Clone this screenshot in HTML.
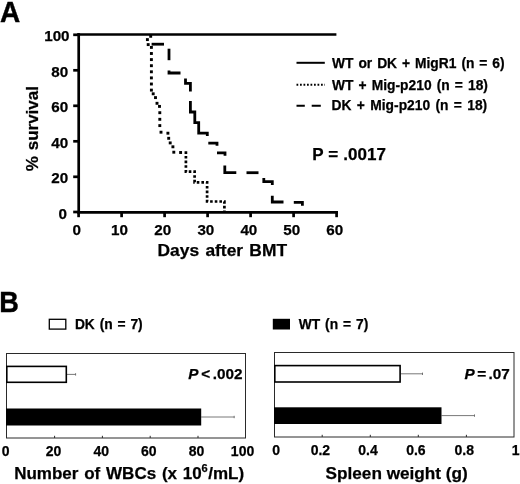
<!DOCTYPE html><html><head><meta charset="utf-8"><title>Figure</title>
<style>html,body{margin:0;padding:0;background:#fff}svg{display:block}text{font-family:"Liberation Sans",sans-serif;font-weight:bold;fill:#000;white-space:pre;stroke:#000;stroke-width:0.25px}</style></head><body>
<svg width="520" height="484" viewBox="0 0 520 484">
<rect width="520" height="484" fill="#fff"/>
<text transform="translate(0.10,21.6) scale(0.95,1)" font-size="29.5" style="stroke-width:0.4px">A</text>
<text transform="translate(-0.86,312.1) scale(0.92,1)" font-size="29.5" style="stroke-width:0.4px">B</text>
<g stroke="#000" stroke-width="2.7" fill="none">
<path d="M78.7 33.2V213.4"/>
<path d="M77.3 212.3H338"/>
<path d="M77.3 34.5H336.4"/>
<path d="M73.2 212.0H79"/>
<path d="M73.2 176.8H79"/>
<path d="M73.2 141.3H79"/>
<path d="M73.2 105.8H79"/>
<path d="M73.2 70.3H79"/>
<path d="M73.2 34.8H79"/>
<path d="M78.6 212V217.2"/>
<path d="M121.6 212V217.2"/>
<path d="M164.6 212V217.2"/>
<path d="M207.6 212V217.2"/>
<path d="M250.6 212V217.2"/>
<path d="M293.6 212V217.2"/>
<path d="M336.6 212V217.2"/>
</g>
<text x="58.50" y="218.8" font-size="15.2">0</text>
<text x="51.36" y="183.3" font-size="15.2">20</text>
<text x="51.36" y="147.8" font-size="15.2">40</text>
<text x="51.36" y="112.3" font-size="15.2">60</text>
<text x="51.36" y="76.8" font-size="15.2">80</text>
<text x="44.22" y="41.3" font-size="15.2">100</text>
<text x="72.48" y="234.9" font-size="15.2">0</text>
<text x="111.07" y="234.9" font-size="15.2">10</text>
<text x="154.30" y="234.9" font-size="15.2">20</text>
<text x="197.38" y="234.9" font-size="15.2">30</text>
<text x="240.42" y="234.9" font-size="15.2">40</text>
<text x="283.30" y="234.9" font-size="15.2">50</text>
<text x="326.26" y="234.9" font-size="15.2">60</text>
<text transform="translate(38.2,171.24) rotate(-90)" font-size="17" style="word-spacing:1.08px">% survival</text>
<text x="157.57" y="255.8" font-size="17.4" style="word-spacing:1.42px">Days after BMT</text>
<g fill="#000">
<rect x="149.25" y="34.85" width="2.9" height="2.9"/>
<rect x="145.95" y="38.15" width="2.9" height="2.9"/>
<rect x="146.75" y="43.15" width="2.9" height="2.9"/>
<rect x="149.95" y="45.95" width="2.9" height="2.9"/>
<rect x="149.95" y="52.05" width="2.9" height="2.9"/>
<rect x="149.95" y="58.15" width="2.9" height="2.9"/>
<rect x="149.95" y="64.25" width="2.9" height="2.9"/>
<rect x="149.95" y="70.35" width="2.9" height="2.9"/>
<rect x="149.95" y="76.45" width="2.9" height="2.9"/>
<rect x="149.95" y="82.55" width="2.9" height="2.9"/>
<rect x="149.95" y="88.65" width="2.9" height="2.9"/>
<rect x="151.75" y="92.35" width="2.9" height="2.9"/>
<rect x="154.05" y="96.15" width="2.9" height="2.9"/>
<rect x="155.55" y="101.85" width="2.9" height="2.9"/>
<rect x="158.05" y="104.95" width="2.9" height="2.9"/>
<rect x="158.35" y="111.25" width="2.9" height="2.9"/>
<rect x="158.35" y="117.85" width="2.9" height="2.9"/>
<rect x="158.35" y="124.15" width="2.9" height="2.9"/>
<rect x="159.55" y="130.75" width="2.9" height="2.9"/>
<rect x="166.45" y="131.75" width="2.9" height="2.9"/>
<rect x="167.25" y="136.85" width="2.9" height="2.9"/>
<rect x="168.75" y="141.45" width="2.9" height="2.9"/>
<rect x="171.45" y="145.35" width="2.9" height="2.9"/>
<rect x="172.35" y="150.75" width="2.9" height="2.9"/>
<rect x="179.15" y="151.05" width="2.9" height="2.9"/>
</g>
<path fill="none" stroke="#000" stroke-width="2.7" stroke-dasharray="2.6 2.05" d="M185.9 151.3 V171.7 H194.6 V182.3 H207.1 V201.5 H224.4 V211"/>
<g fill="none" stroke="#000" stroke-width="2.8">
<path d="M151.6 44.2H164"/>
<path d="M169 48.7V60.2"/>
<path d="M169 70.6V73H180.5"/>
<path d="M185.5 78.4V83.4H190.4V91.6"/>
<path d="M190.4 101V112H194.8V122.6H198.7V133.2H207.3V136"/>
<path d="M208.3 143.2H217V145.7"/>
<path d="M217 152.9H225V155.8"/>
<path d="M224.8 165.5V172.7H236.3"/>
<path d="M246.5 172.7H258.5"/>
<path d="M263.8 177.9V181.7H272.3V185"/>
<path d="M272.3 195.8V202H283.5"/>
<path d="M293.8 202.4H302.4V205.8"/>
</g>
<g stroke="#000" stroke-width="2" fill="none">
<path d="M296.5 62.8H324.8"/>
<path d="M296.5 84.8H325" stroke-dasharray="1.75 1.75"/>
<path d="M296.5 105.8H304.8M311.7 105.8H320.8"/>
</g>
<text x="332.00" y="67.8" font-size="13.8" style="word-spacing:1.12px">WT or DK + MigR1 (n = 6)</text>
<text x="332.00" y="89.6" font-size="13.8" style="word-spacing:1.29px">WT + Mig-p210 (n = 18)</text>
<text x="331.60" y="110.2" font-size="13.8" style="word-spacing:1.52px">DK + Mig-p210 (n = 18)</text>
<text x="312.29" y="160.4" font-size="17" style="word-spacing:0.33px">P = .0017</text>
<rect x="49.3" y="319.3" width="16.5" height="9.8" fill="#fff" stroke="#000" stroke-width="1.3"/>
<text x="74.90" y="328.5" font-size="13.8" style="word-spacing:1.00px">DK (n = 7)</text>
<rect x="272.8" y="318.8" width="17.2" height="10.7" fill="#000"/>
<text x="298.70" y="328.6" font-size="13.8" style="word-spacing:1.09px">WT (n = 7)</text>
<rect x="6.5" y="353.5" width="239.0" height="84.5" fill="#fff" stroke="#2a2a2a" stroke-width="1"/>
<path d="M54.6 438V435.8" stroke="#2a2a2a" stroke-width="1"/>
<path d="M102.4 438V435.8" stroke="#2a2a2a" stroke-width="1"/>
<path d="M150.2 438V435.8" stroke="#2a2a2a" stroke-width="1"/>
<path d="M198.0 438V435.8" stroke="#2a2a2a" stroke-width="1"/>
<path d="M67 374.4H75.6M75.6 373.2V375.6" stroke="#555" stroke-width="0.8" fill="none"/>
<path d="M201.2 417.0H234.2M234.2 415.8V418.2" stroke="#555" stroke-width="0.8" fill="none"/>
<rect x="6.8" y="366.40000000000003" width="59.5" height="15.9" fill="#fff" stroke="#000" stroke-width="1.6"/>
<rect x="6.0" y="408.5" width="195.2" height="17.0" fill="#000"/>
<text x="1.71" y="455.8" font-size="14">0</text>
<text x="45.77" y="455.8" font-size="14">20</text>
<text x="93.57" y="455.8" font-size="14">40</text>
<text x="141.03" y="455.8" font-size="14">60</text>
<text x="188.76" y="455.8" font-size="14">80</text>
<text x="230.87" y="455.8" font-size="14">100</text>
<rect x="274.5" y="352.5" width="239.5" height="84.5" fill="#fff" stroke="#2a2a2a" stroke-width="1"/>
<path d="M322.2 437V434.8" stroke="#2a2a2a" stroke-width="1"/>
<path d="M370.3 437V434.8" stroke="#2a2a2a" stroke-width="1"/>
<path d="M418.3 437V434.8" stroke="#2a2a2a" stroke-width="1"/>
<path d="M466.4 437V434.8" stroke="#2a2a2a" stroke-width="1"/>
<path d="M400.8 373.8H422.5M422.5 372.6V375.0" stroke="#555" stroke-width="0.8" fill="none"/>
<path d="M441.5 415.6H474.5M474.5 414.4V416.8" stroke="#555" stroke-width="0.8" fill="none"/>
<rect x="274.8" y="365.6" width="125.30000000000001" height="16.4" fill="#fff" stroke="#000" stroke-width="1.6"/>
<rect x="274.0" y="407.3" width="167.5" height="16.7" fill="#000"/>
<text x="272.31" y="455.4" font-size="14">0</text>
<text x="310.67" y="455.4" font-size="14">0.2</text>
<text x="358.22" y="455.4" font-size="14">0.4</text>
<text x="406.17" y="455.4" font-size="14">0.6</text>
<text x="454.50" y="455.4" font-size="14">0.8</text>
<text x="511.77" y="455.4" font-size="14">1</text>
<text x="188.37" y="379.4" font-size="15.3" style="word-spacing:-1.62px"><tspan font-style="italic">P</tspan> &lt; .002</text>
<text x="464.57" y="379.4" font-size="15.3" style="word-spacing:-1.84px"><tspan font-style="italic">P</tspan> = .07</text>
<text x="14.20" y="478.5" font-size="17" style="word-spacing:1.08px">Number of WBCs (x 10</text>
<text x="201.42" y="472.4" font-size="11" style="word-spacing:0.00px">6</text>
<text x="208.22" y="478.5" font-size="17" style="word-spacing:0.00px">/mL)</text>
<text x="325.57" y="478.5" font-size="17.2" style="word-spacing:-0.06px">Spleen weight (g)</text>
</svg></body></html>
